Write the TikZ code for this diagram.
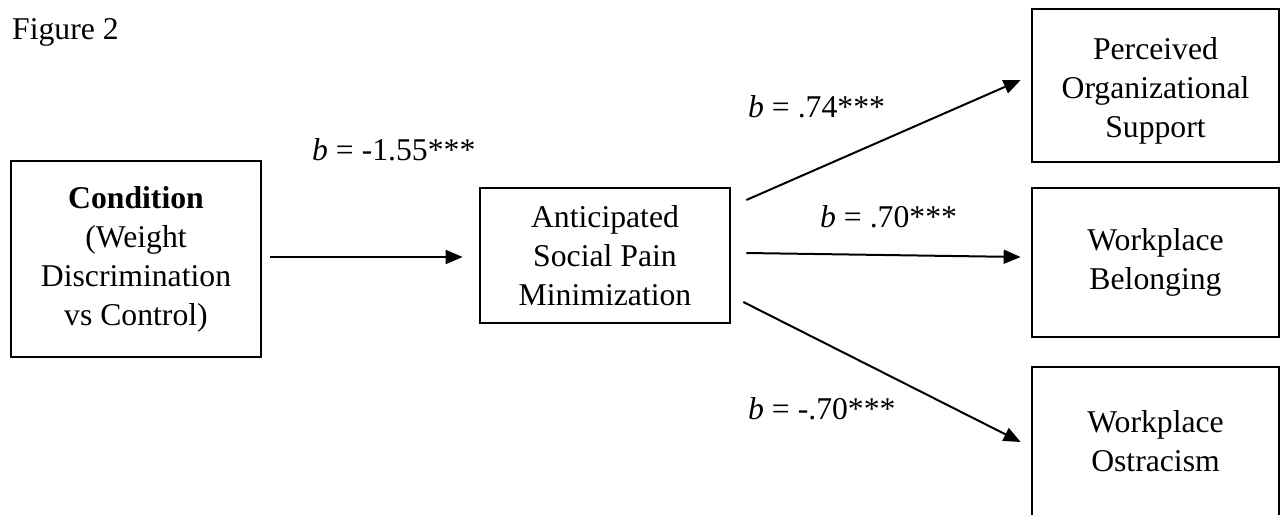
\documentclass[tikz,border=0pt]{standalone}
\usepackage{fontspec}
\setmainfont{Liberation Serif}
\usetikzlibrary{arrows.meta}
\begin{document}
\begin{tikzpicture}[x=1pt,y=-1pt,
  every node/.style={font=\fontsize{31.7pt}{39pt}\selectfont},
  box/.style={draw, line width=2.7pt, inner sep=0pt, align=center},
  conn/.style={line width=2pt, -{Triangle[length=17pt,width=14pt]}},
  coef/.style={inner sep=0pt, anchor=base west}]
\useasboundingbox (0,0) rectangle (1281,514);
\clip (0,0) rectangle (1281,514);

% caption
\node[coef] (fig) at (12,39) {Figure 2};

% predictor and mediator
\node[box, minimum width=250pt, minimum height=196pt] (cond) at (136,259)
  {\textbf{Condition}\\(Weight\\Discrimination\\vs Control)};
\node[box, minimum width=250pt, minimum height=135pt] (med) at (605,255.5)
  {Anticipated\\Social Pain\\Minimization};

% outcomes
\node[box, minimum width=247pt, minimum height=153pt] (pos) at (1155.5,85.5)
  {\rule{0pt}{32pt}Perceived\\Organizational\\Support};
\node[box, minimum width=247pt, minimum height=149pt] (bel) at (1155.5,262.5)
  {Workplace\\Belonging};
\node[box, minimum width=247pt, minimum height=149pt] (ost) at (1155.5,441.5)
  {Workplace\\Ostracism};

% paths
\draw[conn] ([xshift=8pt,yshift=2pt]cond.east) -- ([xshift=-16pt,yshift=-1.5pt]med.west);
\draw[conn] ([xshift=15pt,yshift=55.5pt]med.east) -- ([xshift=-10pt,yshift=5.5pt]pos.west);
\draw[conn] ([xshift=15pt,yshift=2.5pt]med.east) -- ([xshift=-10pt,yshift=5.5pt]bel.west);
\draw[conn] ([xshift=12pt,yshift=-46.5pt]med.east) -- ([xshift=-10pt,yshift=-0.5pt]ost.west);

% path coefficients
\node[coef] (b1) at (312,160) {\textit{b} = -1.55***};
\node[coef] (b2) at (748,117) {\textit{b} = .74***};
\node[coef] (b3) at (820,227) {\textit{b} = .70***};
\node[coef] (b4) at (748,419) {\textit{b} = -.70***};
\end{tikzpicture}
\end{document}
